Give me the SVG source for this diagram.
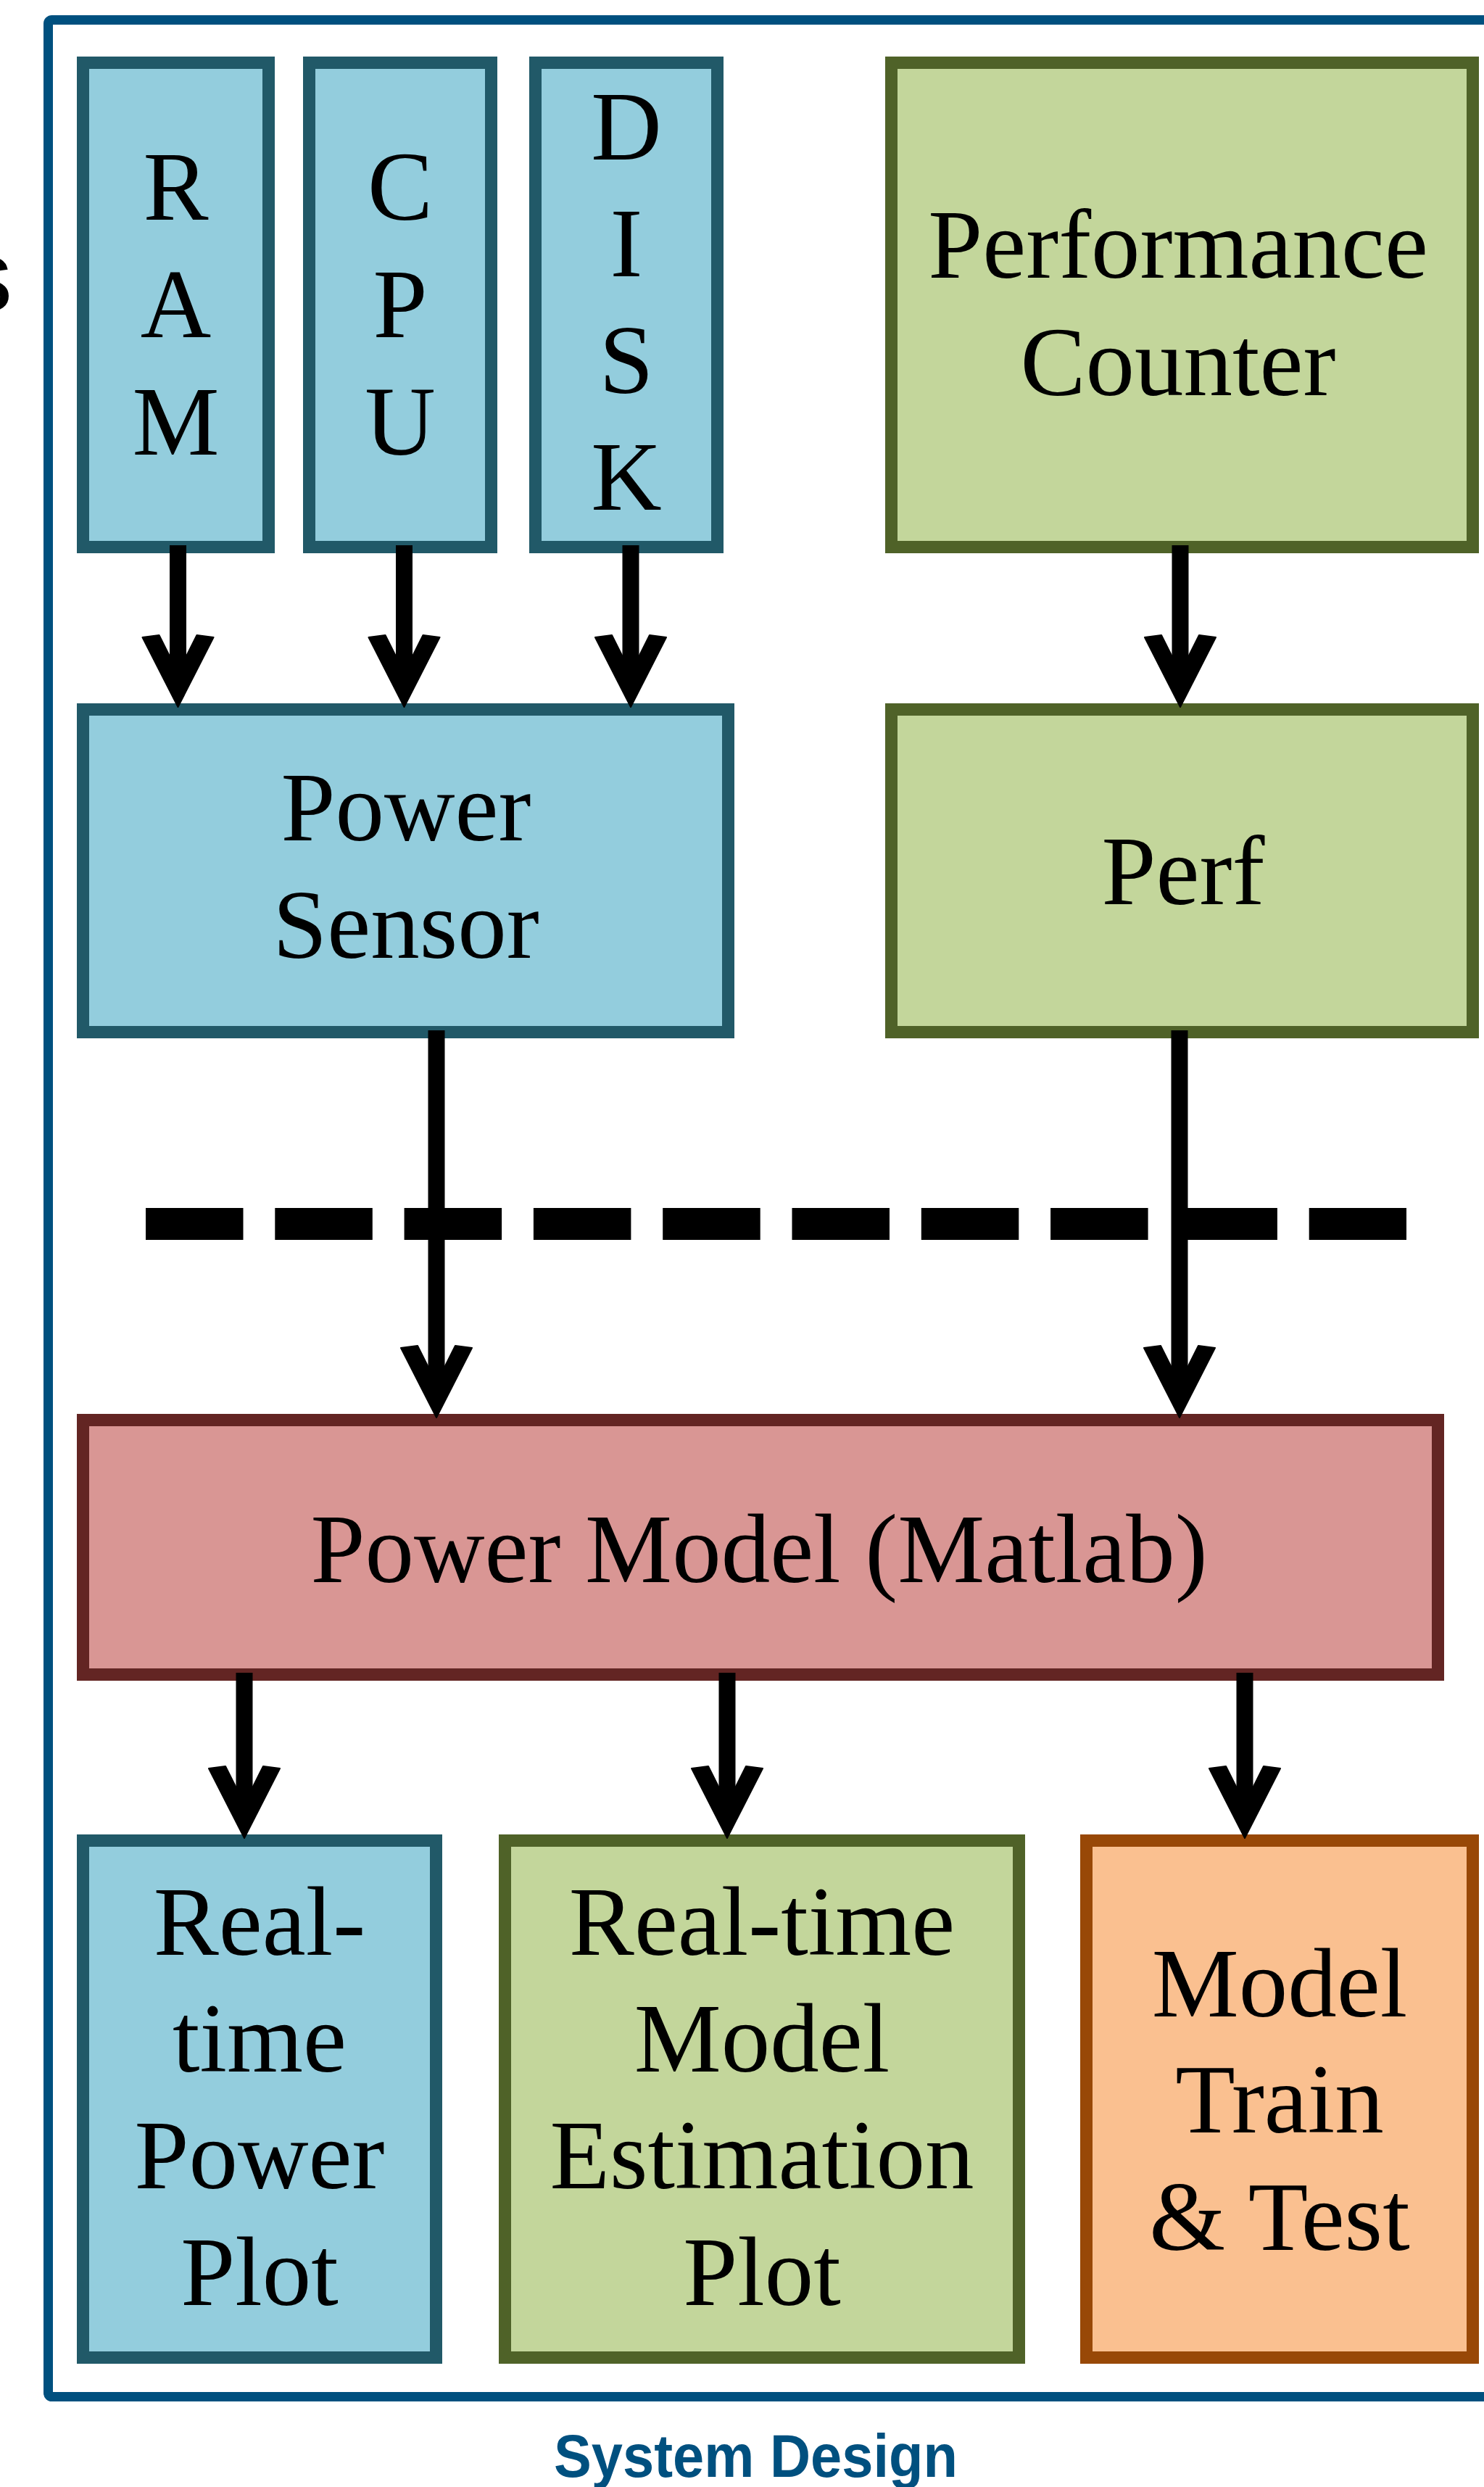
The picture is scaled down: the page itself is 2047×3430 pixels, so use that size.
<svg xmlns="http://www.w3.org/2000/svg" width="2047" height="3430" viewBox="0 0 2047 3430">
  <style>
    .t{font-family:"Liberation Serif","Times New Roman",serif;font-size:135px;fill:#000;text-anchor:middle}
    .blue{fill:#93CDDD;stroke:#215968;stroke-width:17}
    .green{fill:#C3D69B;stroke:#4F6228;stroke-width:17}
    .red{fill:#D99694;stroke:#632523;stroke-width:17}
    .orange{fill:#FAC090;stroke:#984807;stroke-width:17}
    .arr{stroke:#000;stroke-width:23;fill:none;marker-end:url(#ah)}
    .cap{font-family:"Liberation Sans",Arial,sans-serif;font-weight:bold;font-size:84px;fill:#00507F;text-anchor:middle}
  </style>
  <defs>
    <marker id="ah" markerUnits="userSpaceOnUse" orient="auto" viewBox="-110 -60 120 120" markerWidth="120" markerHeight="120" refX="-40" refY="0">
      <path d="M0,0 L-96,-49 L-99,-26 L-47,0 L-99,26 L-96,49 Z" fill="#000" stroke="#000" stroke-width="2" stroke-linejoin="round"/>
    </marker>
  </defs>
  <rect width="2047" height="3430" fill="#fff"/>
  <rect id="frame" x="66.5" y="27.5" width="2100" height="3278" rx="5" fill="none" stroke="#00507F" stroke-width="13"/>
  <text x="17" y="429" font-family="Liberation Sans, Arial, sans-serif" font-size="139" text-anchor="end" fill="#000">s</text>

  <g id="ram"><rect class="blue" x="114.5" y="86.5" width="256" height="668"/>
    <text class="t"><tspan x="242.5" y="303">R</tspan><tspan x="242.5" y="465">A</tspan><tspan x="242.5" y="627">M</tspan></text></g>
  <g id="cpu"><rect class="blue" x="426.5" y="86.5" width="251" height="668"/>
    <text class="t"><tspan x="552" y="303">C</tspan><tspan x="552" y="465">P</tspan><tspan x="552" y="627">U</tspan></text></g>
  <g id="disk"><rect class="blue" x="738.5" y="86.5" width="251" height="668"/>
    <text class="t"><tspan x="864" y="220">D</tspan><tspan x="864" y="381">I</tspan><tspan x="864" y="542">S</tspan><tspan x="864" y="703">K</tspan></text></g>
  <g id="perfcounter"><rect class="green" x="1229.5" y="86.5" width="802" height="668"/>
    <text class="t"><tspan x="1625" y="383">Performance</tspan><tspan x="1625" y="545">Counter</tspan></text></g>
  <g id="powersensor"><rect class="blue" x="114.5" y="978.5" width="890" height="445"/>
    <text class="t"><tspan x="560" y="1159">Power</tspan><tspan x="560" y="1321">Sensor</tspan></text></g>
  <g id="perf"><rect class="green" x="1229.5" y="978.5" width="802" height="445"/>
    <text class="t" x="1632" y="1247">Perf</text></g>
  <g id="powermodel"><rect class="red" x="114.5" y="1958.5" width="1869" height="351"/>
    <text class="t" x="1047" y="2182">Power Model (Matlab)</text></g>
  <g id="powerplot"><rect class="blue" x="114.5" y="2538.5" width="487" height="713"/>
    <text class="t"><tspan x="358" y="2696">Real-</tspan><tspan x="358" y="2857">time</tspan><tspan x="358" y="3018">Power</tspan><tspan x="358" y="3179">Plot</tspan></text></g>
  <g id="estplot"><rect class="green" x="696.5" y="2538.5" width="709" height="713"/>
    <text class="t"><tspan x="1051" y="2696">Real-time</tspan><tspan x="1051" y="2857">Model</tspan><tspan x="1051" y="3018">Estimation</tspan><tspan x="1051" y="3179">Plot</tspan></text></g>
  <g id="traintest"><rect class="orange" x="1498.5" y="2538.5" width="533" height="713"/>
    <text class="t"><tspan x="1765" y="2781">Model</tspan><tspan x="1765" y="2941">Train</tspan><tspan x="1765" y="3103">&amp; Test</tspan></text></g>

  <g id="divider"><line x1="201" y1="1688" x2="1940" y2="1688" stroke="#000" stroke-width="44" stroke-dasharray="134.5 43.8"/></g>

  <g id="connectors">
    <line class="arr" x1="245.5" y1="752" x2="245.5" y2="935"/>
    <line class="arr" x1="557.5" y1="752" x2="557.5" y2="935"/>
    <line class="arr" x1="870" y1="752" x2="870" y2="935"/>
    <line class="arr" x1="1628" y1="752" x2="1628" y2="935"/>
    <line class="arr" x1="602" y1="1421" x2="602" y2="1915"/>
    <line class="arr" x1="1627" y1="1421" x2="1627" y2="1915"/>
    <line class="arr" x1="337" y1="2307" x2="337" y2="2495"/>
    <line class="arr" x1="1003" y1="2307" x2="1003" y2="2495"/>
    <line class="arr" x1="1717" y1="2307" x2="1717" y2="2495"/>
  </g>

  <text class="cap" x="1042.5" y="3416" textLength="557" lengthAdjust="spacingAndGlyphs">System Design</text>
</svg>
